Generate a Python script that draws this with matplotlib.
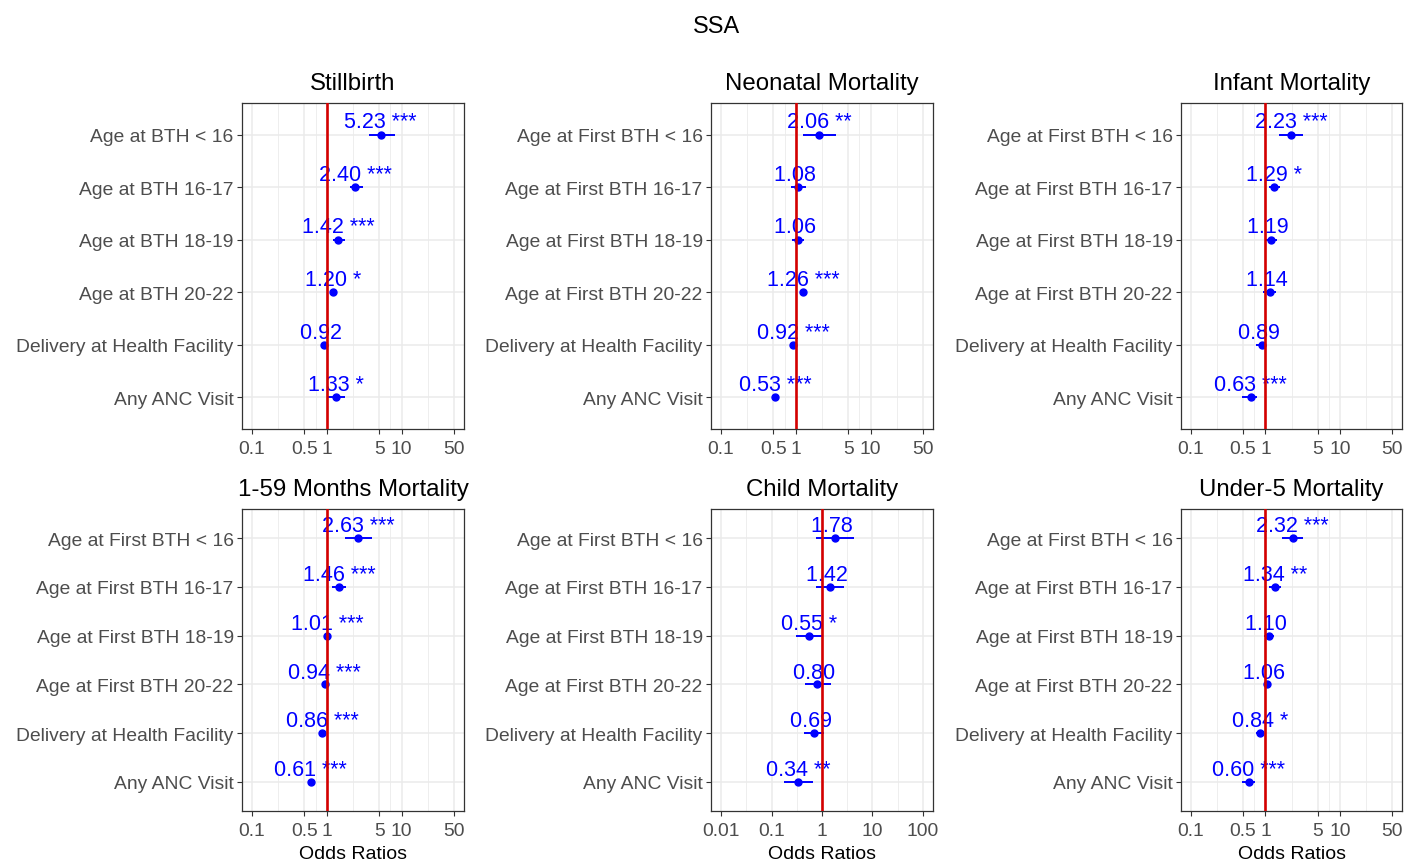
import numpy as np
import matplotlib
matplotlib.use('Agg')
import matplotlib.pyplot as plt
from matplotlib.ticker import FixedLocator, NullFormatter

plt.rcParams['font.family'] = ['Liberation Sans', 'DejaVu Sans']

# data: odds ratio, CI low, CI high, significance stars
outcomes = ["Stillbirth", "Neonatal Mortality", "Infant Mortality",
            "1-59 Months Mortality", "Child Mortality", "Under-5 Mortality"]

rows_first = ["Age at First BTH < 16", "Age at First BTH 16-17", "Age at First BTH 18-19",
              "Age at First BTH 20-22", "Delivery at Health Facility", "Any ANC Visit"]
rows_still = ["Age at BTH < 16", "Age at BTH 16-17", "Age at BTH 18-19",
              "Age at BTH 20-22", "Delivery at Health Facility", "Any ANC Visit"]

still_or = [5.23, 2.40, 1.42, 1.20, 0.92, 1.33]
still_lo = [3.71, 2.04, 1.20, 1.12, 0.83, 1.02]
still_hi = [8.20, 3.08, 1.75, 1.35, 1.02, 1.75]
still_st = ["***", "***", "***", "*", "", "*"]

neo_or = [2.06, 1.08, 1.06, 1.26, 0.92, 0.53]
neo_lo = [1.26, 0.86, 0.88, 1.21, 0.89, 0.50]
neo_hi = [3.45, 1.37, 1.29, 1.31, 0.95, 0.56]
neo_st = ["**", "", "", "***", "***", "***"]

inf_or = [2.23, 1.29, 1.19, 1.14, 0.89, 0.63]
inf_lo = [1.51, 1.12, 1.01, 0.93, 0.74, 0.49]
inf_hi = [3.21, 1.58, 1.45, 1.37, 1.00, 0.77]
inf_st = ["***", "*", "", "", "", "***"]

m159_or = [2.63, 1.46, 1.01, 0.94, 0.86, 0.61]
m159_lo = [1.75, 1.18, 0.98, 0.91, 0.83, 0.58]
m159_hi = [3.98, 1.79, 1.04, 0.97, 0.89, 0.64]
m159_st = ["***", "***", "***", "***", "***", "***"]

child_or = [1.78, 1.42, 0.55, 0.80, 0.69, 0.34]
child_lo = [0.76, 0.76, 0.31, 0.45, 0.44, 0.18]
child_hi = [4.35, 2.72, 1.00, 1.48, 1.10, 0.65]
child_st = ["", "", "*", "", "", "**"]

u5_or = [2.32, 1.34, 1.10, 1.06, 0.84, 0.60]
u5_lo = [1.65, 1.12, 0.96, 0.96, 0.74, 0.49]
u5_hi = [3.21, 1.62, 1.30, 1.20, 0.93, 0.72]
u5_st = ["***", "**", "", "", "*", "***"]

breaks_std = [0.1, 0.5, 1, 5, 10, 50]
labels_std = ["0.1", "0.5", "1", "5", "10", "50"]
breaks_child = [0.01, 0.1, 1, 10, 100]
labels_child = ["0.01", "0.1", "1", "10", "100"]

panels = [
    (still_or, still_lo, still_hi, still_st, rows_still, breaks_std, labels_std),
    (neo_or, neo_lo, neo_hi, neo_st, rows_first, breaks_std, labels_std),
    (inf_or, inf_lo, inf_hi, inf_st, rows_first, breaks_std, labels_std),
    (m159_or, m159_lo, m159_hi, m159_st, rows_first, breaks_std, labels_std),
    (child_or, child_lo, child_hi, child_st, rows_first, breaks_child, labels_child),
    (u5_or, u5_lo, u5_hi, u5_st, rows_first, breaks_std, labels_std),
]

W, H = 1406, 862
fig = plt.figure(figsize=(W / 100, H / 100), dpi=100)

# panel boxes in pixels (left, top, right, bottom)
cols = [(242, 464), (711, 933), (1181, 1402)]
rows = [(104, 430), (510, 812)]

grid_c = '#EBEBEB'
txt_c = '#4D4D4D'

for i, (ors, los, his, sts, ylabs, brk, brk_lab) in enumerate(panels):
    l, r = cols[i % 3]
    t, b = rows[i // 3]
    ax = fig.add_axes([l / W, 1 - b / H, (r - l) / W, (b - t) / H])
    ax.set_xscale('log')

    lb = np.log10(brk)
    span = lb[-1] - lb[0]
    ax.set_xlim(10 ** (lb[0] - 0.05 * span), 10 ** (lb[-1] + 0.05 * span))
    n = len(ors)
    y = np.arange(n)
    ax.set_ylim(n - 0.4, -0.6)

    ax.xaxis.set_major_locator(FixedLocator(brk))
    ax.set_xticklabels(brk_lab)
    mids = 10 ** ((lb[:-1] + lb[1:]) / 2)
    ax.xaxis.set_minor_locator(FixedLocator(mids))
    ax.xaxis.set_minor_formatter(NullFormatter())
    ax.set_yticks(y)
    ax.set_yticklabels(ylabs)

    ax.grid(which='major', color=grid_c, lw=1.1, zorder=0)
    ax.xaxis.grid(which='minor', color=grid_c, lw=0.6, zorder=0)
    ax.set_axisbelow(True)
    ax.tick_params(which='major', length=3.5, width=0.8, color='#333333',
                   labelcolor=txt_c, labelsize=13.9, pad=2.5)
    ax.tick_params(axis='x', which='major', pad=4.5)
    ax.tick_params(which='minor', length=0)
    for sp in ax.spines.values():
        sp.set_color('#333333')
        sp.set_linewidth(0.9)

    # CI bars, points and labels
    ax.hlines(y, los, his, color='blue', lw=1.4, zorder=3)
    ax.plot(ors, y, 'o', color='blue', ms=5, zorder=4)
    for v, yy, s in zip(ors, y, sts):
        ax.text(v, yy - 0.14, f"{v:.2f} {s}", ha='center', va='baseline',
                color='blue', fontsize=15.5, zorder=4)
    ax.axvline(1, color='#D40000', lw=1.9, zorder=6)

    ax.annotate(outcomes[i], xy=(0.5, 1), xycoords='axes fraction',
                xytext=(0, 10), textcoords='offset points', ha='center',
                va='baseline', fontsize=17.3, color='black')
    if i >= 3:
        ax.annotate('Odds Ratios', xy=(0.5, 0), xycoords='axes fraction',
                    xytext=(0, -33.5), textcoords='offset points', ha='center',
                    va='baseline', fontsize=14, color='black')

fig.text(716 / W, 1 - 33 / H, 'SSA', ha='center', va='baseline', fontsize=16.9)

fig.savefig('out.png', dpi=100)
